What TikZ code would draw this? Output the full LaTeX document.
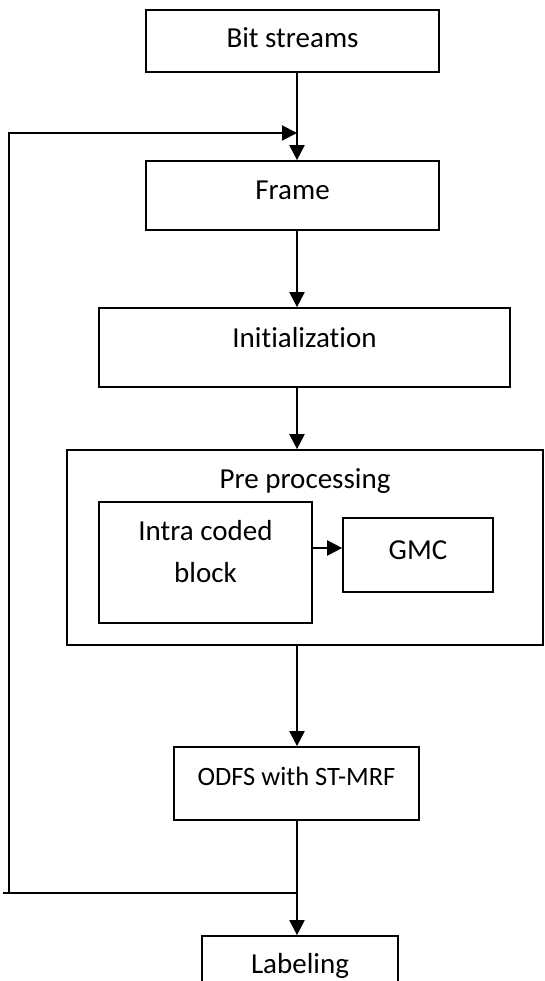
\documentclass[tikz,border=0pt]{standalone}
\usepackage{fontspec}
\setmainfont[RawFeature={-liga;-calt;-clig}]{Carlito}
\usetikzlibrary{arrows.meta}
\newcommand{\lift}[2]{\raisebox{#1}[0pt][0pt]{#2}}

\begin{document}
\begin{tikzpicture}[x=1pt, y=-1pt, line width=1.9pt,
  box/.style={draw, line width=1.7pt, inner sep=0pt, font=\fontsize{29}{42}\selectfont},
  >={Triangle[length=15pt,width=15pt]}]
 \useasboundingbox (0,0) rectangle (545,981);

 \node[box, minimum width=293, minimum height=62]  (bits)  at (292.5, 41)   {\lift{-7pt}{Bit streams}};
 \node[box, minimum width=293, minimum height=69]  (frame) at (292.5, 195.5) {\lift{-4.5pt}{Frame}};
 \node[box, minimum width=411, minimum height=79]  (init)  at (304.5, 347.5) {\lift{0pt}{Initialization}};
 \node[box, minimum width=476, minimum height=195] (pre)   at (305, 547.5)   {\lift{59.5pt}{Pre processing}};
 \node[box, minimum width=213, minimum height=121] (intra) at (205.5, 562.5) {\lift{-19.5pt}{\begin{tabular}[b]{@{}c@{}}Intra coded\\ block\end{tabular}}};
 \node[box, minimum width=150, minimum height=74]  (gmc)   at (418, 555)     {\lift{-4pt}{GMC}};
 \node[box, minimum width=245, minimum height=73, font=\fontsize{26.5}{32}\selectfont] (odfs) at (296.5, 783.5) {\lift{-1.5pt}{ODFS with ST-MRF}};
 \node[box, minimum width=196, minimum height=74]  (lab)   at (300, 973)     {\lift{0pt}{Labeling}};

 \coordinate (join)  at (297, 133);
 \coordinate (split) at (297, 893);
 \coordinate (stub)  at (3, 893);
 \coordinate (turn)  at (9, 893);

 \draw[->] (bits.south -| join) -- (frame.north -| join);
 \draw[->] (frame.south -| join) -- (init.north -| join);
 \draw[->] (init.south -| join) -- (pre.north -| join);
 \draw[->] (pre.south -| join) -- (odfs.north -| join);
 \draw[->] (odfs.south -| join) -- (lab.north -| join);
 \draw[->] ([yshift=7pt]gmc.west -| intra.east) -- ([yshift=7pt]gmc.west);

 % loop back to the next frame
 \draw (split) -- (stub);
 \draw[->] (turn) |- (join);
\end{tikzpicture}
\end{document}
